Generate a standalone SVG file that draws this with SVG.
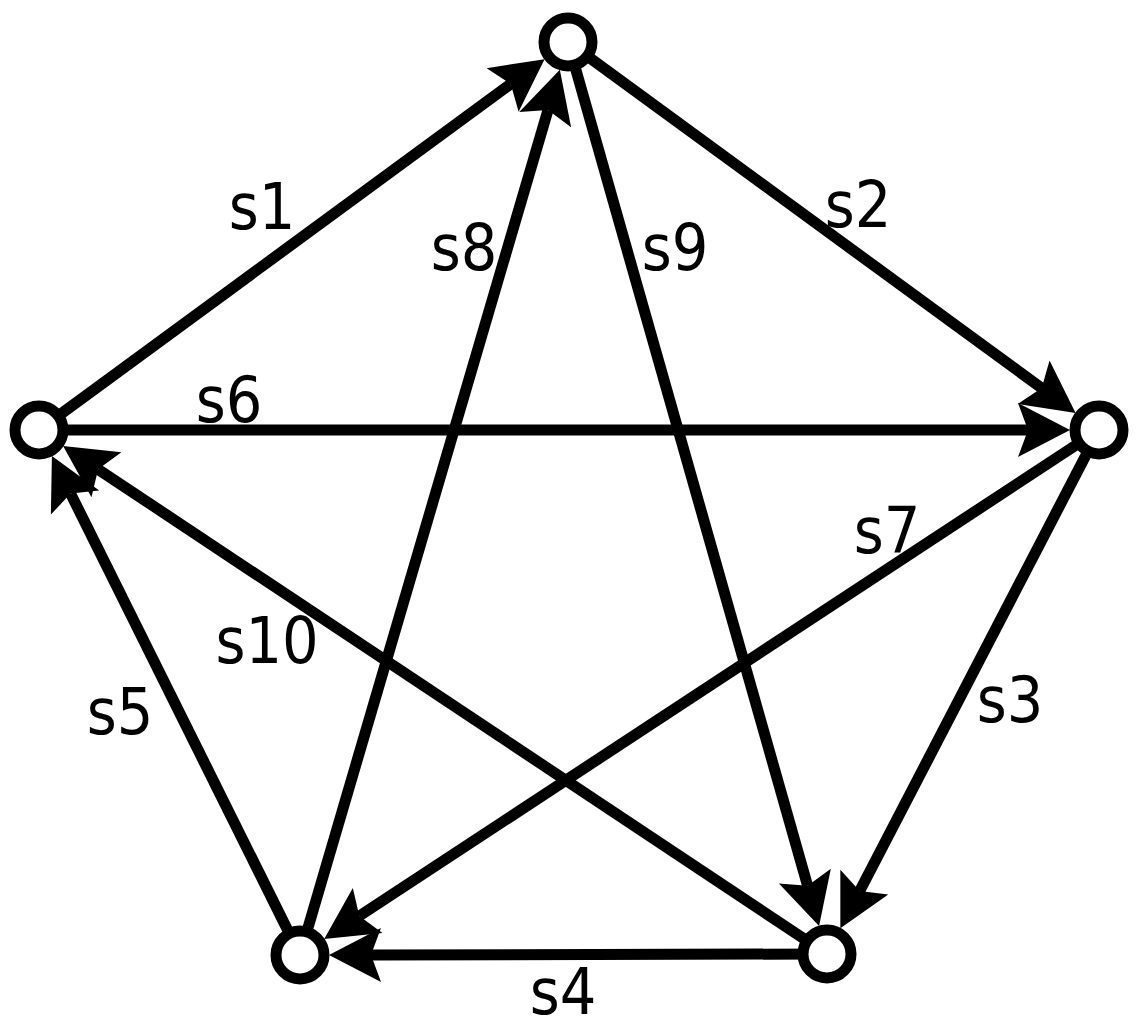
<svg xmlns="http://www.w3.org/2000/svg" width="1138" height="1026" viewBox="0 0 1138 1026">
<style>
.e{stroke:#000;stroke-width:11;fill:none;marker-end:url(#ah)}
.n{fill:#fff;stroke:#000;stroke-width:11}
.l{font-family:"DejaVu Sans","Liberation Sans",sans-serif;font-stretch:condensed;font-size:64px;fill:#000;text-anchor:middle}
</style>
<defs>
<marker id="ah" markerUnits="userSpaceOnUse" orient="auto" overflow="visible" refX="0" refY="0" markerWidth="1" markerHeight="1">
<path d="M42,0 L-10,-27 L0,0 L-10,27 Z" fill="#000"/>
</marker>
</defs>
<g id="connectors">
<line id="s1" class="e" x1="39" y1="430" x2="510.7" y2="84"/>
<line id="s2" class="e" x1="568" y1="42" x2="1041.7" y2="388.1"/>
<line id="s3" class="e" x1="1099" y1="430" x2="859.7" y2="891"/>
<line id="s4" class="e" x1="827" y1="954" x2="371" y2="954.9"/>
<line id="s5" class="e" x1="300" y1="955" x2="70.6" y2="493.6"/>
<line id="s6" class="e" x1="39" y1="430" x2="1028" y2="430"/>
<line id="s7" class="e" x1="1099" y1="430" x2="359.3" y2="916"/>
<line id="s8" class="e" x1="300" y1="955" x2="548" y2="110.1"/>
<line id="s9" class="e" x1="568" y1="42" x2="807.6" y2="885.7"/>
<line id="s10" class="e" x1="827" y1="954" x2="98.1" y2="469.3"/>
</g>
<g id="labels">
<text class="l" x="262" y="229">s1</text>
<text class="l" x="858" y="227">s2</text>
<text class="l" x="1010" y="722">s3</text>
<text class="l" x="563" y="1014">s4</text>
<text class="l" x="120" y="734">s5</text>
<text class="l" x="229" y="422">s6</text>
<text class="l" x="887" y="553">s7</text>
<text class="l" x="464" y="270">s8</text>
<text class="l" x="675" y="270">s9</text>
<text class="l" x="267" y="663">s10</text>
</g>
<g id="node-top"><circle class="n" cx="568" cy="42" r="24"/></g>
<g id="node-right"><circle class="n" cx="1099" cy="430" r="24"/></g>
<g id="node-bottom-right"><circle class="n" cx="827" cy="954" r="24"/></g>
<g id="node-bottom-left"><circle class="n" cx="300" cy="955" r="24"/></g>
<g id="node-left"><circle class="n" cx="39" cy="430" r="24"/></g>
</svg>
